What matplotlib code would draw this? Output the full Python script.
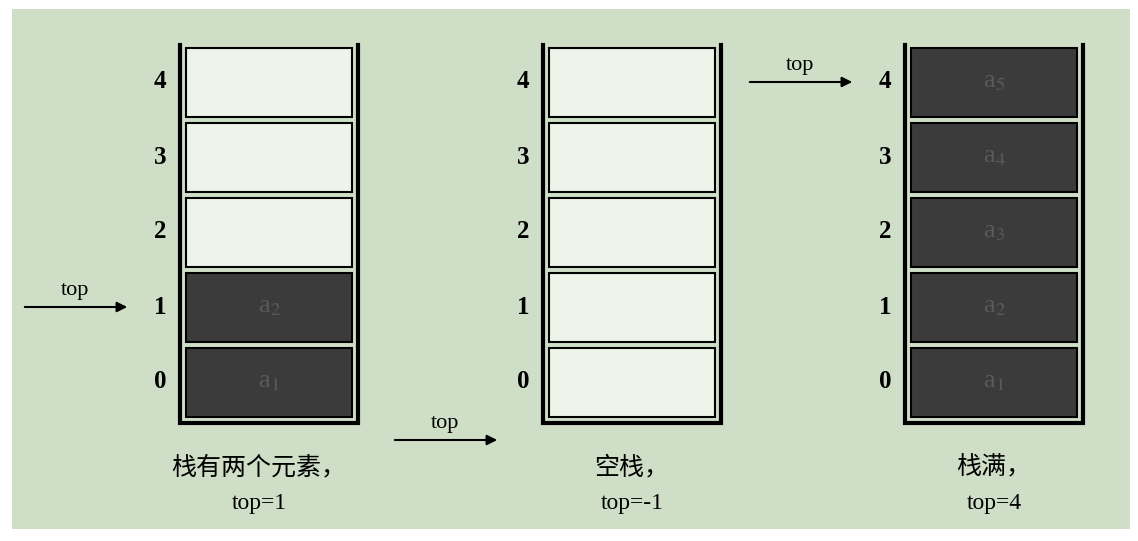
import matplotlib.pyplot as plt
from matplotlib.patches import Rectangle

plt.rcParams["mathtext.fontset"] = "stix"

# stack states
stack_left = [180, 543, 905]
filled = [2, 0, 5]
tops = [1, -1, 4]
captions = ["栈有两个元素，", "空栈，", "栈满，"]
elem_names = ["a$_1$", "a$_2$", "a$_3$", "a$_4$", "a$_5$"]
n_cells = 5

BG = "#cfdfc7"
DARK = "#3b3b3b"
LIGHT = "#eef4ea"
fam = ["Liberation Serif", "Noto Sans CJK SC"]

fig = plt.figure(figsize=(11.38, 5.41), dpi=100)
ax = fig.add_axes([0, 0, 1, 1])
ax.set_xlim(0, 1138)
ax.set_ylim(541, 0)
ax.axis("off")
ax.add_patch(Rectangle((12, 9), 1118, 520, facecolor=BG, edgecolor="none"))

W = 178
def cell_y(i):
    return 382 - 75 * i  # centre of cell i in pixels

for s, x0 in enumerate(stack_left):
    # walls
    ax.plot([x0, x0, x0 + W, x0 + W], [45, 423, 423, 45], color="black", lw=3,
            solid_joinstyle="miter")
    for i in range(n_cells):
        yc = cell_y(i)
        full = i < filled[s]
        ax.add_patch(Rectangle((x0 + 6, yc - 34), W - 12, 69,
                               facecolor=DARK if full else LIGHT,
                               edgecolor="black", lw=1.5))
        if full:
            ax.text(x0 + W / 2, yc, elem_names[i], ha="center", va="center",
                    fontsize=19, color="#5a5a5a", family=fam)
        ax.text(x0 - 20, yc, str(i), ha="center", va="center", fontsize=18,
                family=fam, fontweight="bold")
    # top arrow
    ya = min(cell_y(tops[s]), 440)
    xe = x0 - 50 if tops[s] >= 0 else x0 - 43
    ax.annotate("", xy=(xe, ya), xytext=(xe - 108, ya),
                arrowprops=dict(arrowstyle="-|>", color="black", lw=1.5,
                                mutation_scale=15))
    ax.text(xe - 55, ya - 7, "top", ha="center", va="bottom", fontsize=16,
            family=fam)
    # caption
    cx = x0 + W / 2 - (10 if s == 0 else 0)
    ax.text(cx, 468, captions[s], ha="center", va="center", fontsize=18,
            family=fam)
    ax.text(cx, 504, f"top={tops[s]}", ha="center", va="center", fontsize=17,
            family=fam)

fig.savefig("out.png", dpi=100)
